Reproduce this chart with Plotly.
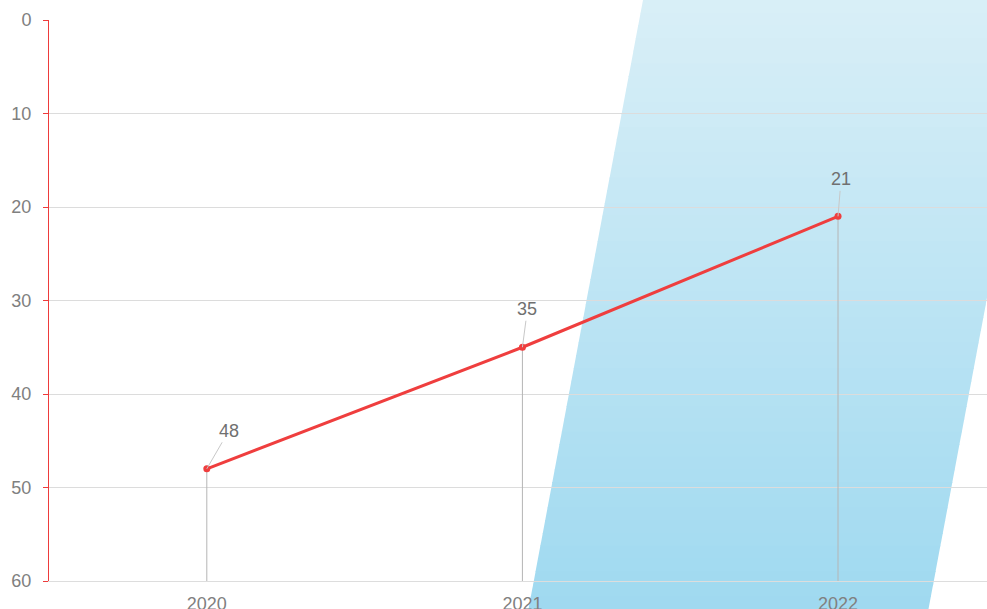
import plotly.graph_objects as go

# ---- data ----
years = ["2020", "2021", "2022"]
values = [48, 35, 21]
label_dx = [22, 5, 3]      # label offsets (px) for the value callouts
label_dy = [-38, -38, -37]
y_ticks = [0, 10, 20, 30, 40, 50, 60]

# ---- layout geometry (pixels) ----
W, H = 987, 609
ML, MR, MT, MB = 49, 0, 20, 28
PW, PH = W - ML - MR, H - MT - MB
FONT = "Liberation Sans, Arial, sans-serif"

def px_to_paper(px, py):
    return (px - ML) / PW, (H - MB - py) / PH

def hex_to_rgb(h):
    h = h.lstrip("#")
    return tuple(int(h[i:i + 2], 16) for i in (0, 2, 4))

top_c = hex_to_rgb("#d9eff7")
bot_c = hex_to_rgb("#9fd9f0")

# decorative slanted gradient band (background)
shapes = []
N = 48
for i in range(N):
    y0 = H * i / N
    y1 = H * (i + 1) / N + 0.8
    t = (i + 0.5) / N
    c = tuple(round(top_c[k] + (bot_c[k] - top_c[k]) * t) for k in range(3))
    pts = [
        (643 - 0.188 * y0, y0),
        (1043 - 0.188 * y0, y0),
        (1043 - 0.188 * y1, y1),
        (643 - 0.188 * y1, y1),
    ]
    pp = [px_to_paper(x, y) for x, y in pts]
    path = "M " + " L ".join(f"{a:.5f},{b:.5f}" for a, b in pp) + " Z"
    shapes.append(dict(type="path", path=path, xref="paper", yref="paper",
                       fillcolor=f"rgb{c}", line=dict(width=0), layer="below"))

fig = go.Figure()

# drop lines from each point to the axis bottom
dx, dy = [], []
for x, v in zip(years, values):
    dx += [x, x, None]
    dy += [v, y_ticks[-1], None]
fig.add_trace(go.Scatter(x=dx, y=dy, mode="lines",
                         line=dict(color="#b5b5b5", width=1),
                         hoverinfo="skip", showlegend=False))

fig.add_trace(go.Scatter(x=years, y=values, mode="lines+markers",
                         line=dict(color="#ef3e3e", width=3),
                         marker=dict(color="#ef3e3e", size=7),
                         showlegend=False))

annotations = []
for i, (v, ax, ay) in enumerate(zip(values, label_dx, label_dy)):
    annotations.append(dict(x=i, y=v, xref="x", yref="y", text=str(v),
                            showarrow=True, arrowhead=0, arrowwidth=1,
                            arrowcolor="#c8c8c8", ax=ax, ay=ay,
                            font=dict(size=18, color="#707070", family=FONT)))

fig.update_layout(
    width=W, height=H,
    margin=dict(l=ML, r=MR, t=MT, b=MB, autoexpand=False),
    paper_bgcolor="white",
    plot_bgcolor="rgba(0,0,0,0)",
    shapes=shapes,
    annotations=annotations,
    font=dict(family=FONT, size=18, color="#808080"),
    xaxis=dict(type="category", range=[-0.5, 2.472], showgrid=False, zeroline=False,
               showline=True, linecolor="#dddddd", linewidth=1,
               ticks="", ticklabelstandoff=6,
               tickfont=dict(size=18, color="#808080"),
               automargin=False),
    yaxis=dict(range=[60, 0], tickvals=y_ticks, showgrid=True,
               gridcolor="#dcdcdc", gridwidth=1, zeroline=False,
               showline=True, linecolor="#ee3b3b", linewidth=1,
               ticks="outside", ticklen=5, tickcolor="#ee3b3b",
               ticklabelstandoff=8,
               tickfont=dict(size=18, color="#808080"),
               automargin=False),
    hovermode=False,
)

fig.write_html("out.html",
               config={"displayModeBar": False},
               post_script="document.body.style.margin='0';document.body.style.overflow='hidden';")
